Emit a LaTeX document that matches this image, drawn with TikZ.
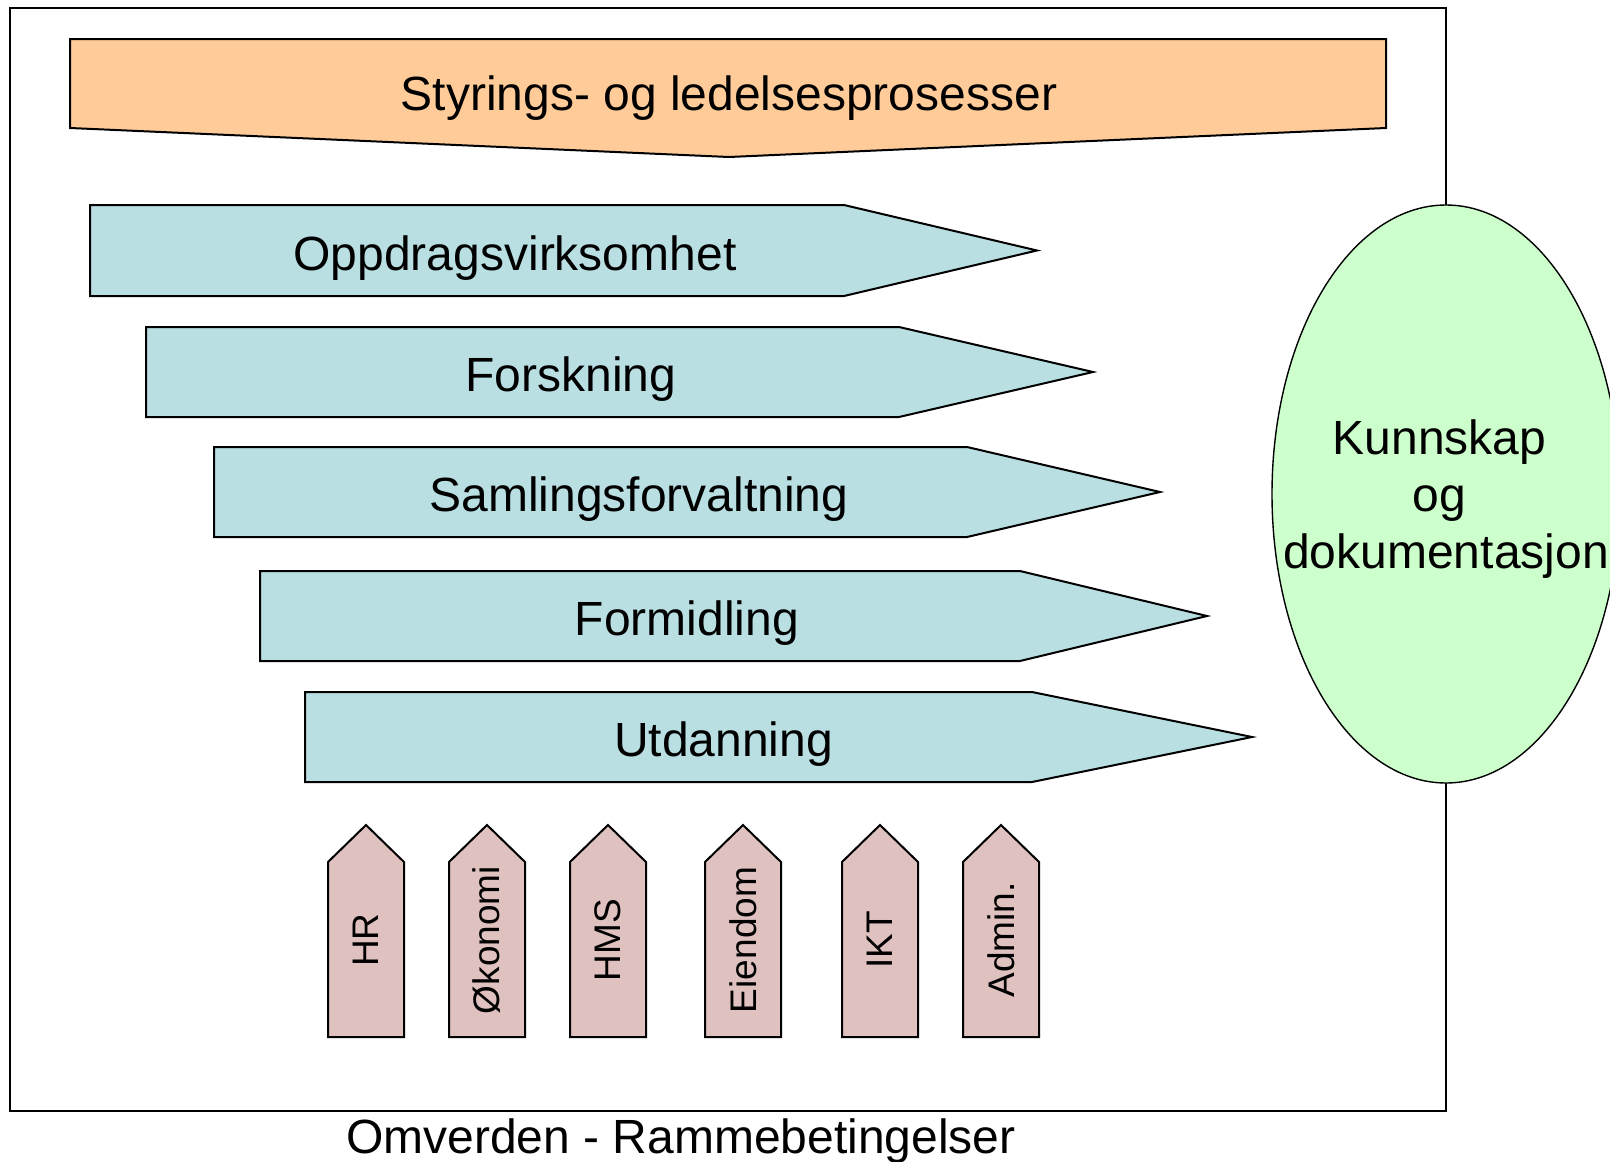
\documentclass[tikz,border=0pt]{standalone}
\usepackage{fontspec}
\setmainfont{Liberation Sans}
\usetikzlibrary{shapes.geometric}

\definecolor{styfarge}{HTML}{FFCC99}
\definecolor{kjernefarge}{HTML}{B9DFE3}
\definecolor{stottefarge}{HTML}{DFC1C0}
\definecolor{kunnfarge}{HTML}{CCFFCC}

\begin{document}
\begin{tikzpicture}[x=1pt,y=-1pt,line join=miter,
  styring/.style={draw,line width=2pt,fill=styfarge},
  kjerne/.style={draw,line width=2pt,fill=kjernefarge},
  stotte/.style={draw,line width=2pt,fill=stottefarge},
  tekst/.style={anchor=base,inner sep=0pt,font=\fontsize{48}{57}\selectfont},
  stottetekst/.style={rotate=90,inner sep=0pt,font=\fontsize{37}{44}\selectfont}]
\useasboundingbox (0,0) rectangle (1610,1162);

% ramme og kunnskap
\draw[line width=1.4pt] (10,8) rectangle (1446,1111);
\node[ellipse,draw,line width=1.4pt,fill=kunnfarge,inner sep=0pt,
  minimum width=348pt,minimum height=578pt] (kunn) at (1446,494) {};
\node[align=center,inner sep=0pt,font=\fontsize{48}{57}\selectfont] (kunntekst) at (1446,499)
  {Kunnskap\rule{13pt}{0pt}\\og\rule{13pt}{0pt}\\dokumentasjon};

% styring
\draw[styring] (70,39) -- (1386,39) -- (1386,128) -- (729,157) -- (70,128) -- cycle;
\node[tekst] (styr) at (729,110) {Styrings- og ledelsesprosesser};

% kjerneprosesser
\draw[kjerne] (90,205) -- (844,205) -- (1037,250.5) -- (844,296) -- (90,296) -- cycle;
\node[tekst] (oppdrag) at (515,270) {Oppdragsvirksomhet};
\draw[kjerne] (146,327) -- (899,327) -- (1093,372) -- (899,417) -- (146,417) -- cycle;
\node[tekst] (forsk) at (571,391.5) {Forskning};
\draw[kjerne] (214,447) -- (967,447) -- (1160,492) -- (967,537) -- (214,537) -- cycle;
\node[tekst] (samling) at (639,511.5) {Samlingsforvaltning};
\draw[kjerne] (260,571) -- (1020,571) -- (1207,616) -- (1020,661) -- (260,661) -- cycle;
\node[tekst] (formidl) at (687,635.5) {Formidling};
\draw[kjerne] (305,692) -- (1032,692) -- (1252,737) -- (1032,782) -- (305,782) -- cycle;
\node[tekst] (utdann) at (723.5,756.5) {Utdanning};

% stoetteprosesser
\draw[stotte] (328,1037) -- (328,862) -- (366,825) -- (404,862) -- (404,1037) -- cycle;
\node[stottetekst] (hr) at (366,940) {HR};
\draw[stotte] (449,1037) -- (449,862) -- (487,825) -- (525,862) -- (525,1037) -- cycle;
\node[stottetekst] (okonomi) at (487,940) {Økonomi};
\draw[stotte] (570,1037) -- (570,862) -- (608,825) -- (646,862) -- (646,1037) -- cycle;
\node[stottetekst] (hms) at (608,940) {HMS};
\draw[stotte] (705,1037) -- (705,862) -- (743,825) -- (781,862) -- (781,1037) -- cycle;
\node[stottetekst] (eiendom) at (743,940) {Eiendom};
\draw[stotte] (842,1037) -- (842,862) -- (880,825) -- (918,862) -- (918,1037) -- cycle;
\node[stottetekst] (ikt) at (880,940) {IKT};
\draw[stotte] (963,1037) -- (963,862) -- (1001,825) -- (1039,862) -- (1039,1037) -- cycle;
\node[stottetekst] (admin) at (1001,940) {Admin.};

\node[tekst] (omverden) at (681,1153) {Omverden - Rammebetingelser};
\end{tikzpicture}
\end{document}
